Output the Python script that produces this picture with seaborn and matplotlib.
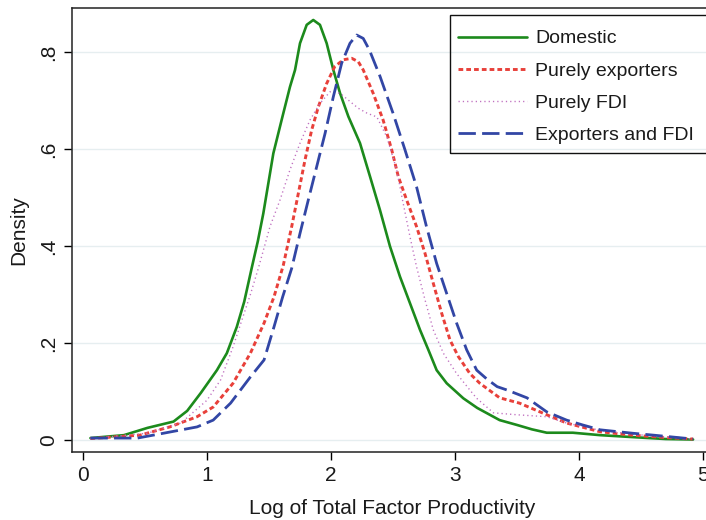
import matplotlib
matplotlib.use("Agg")
import matplotlib.pyplot as plt
import seaborn as sns
import pandas as pd
from matplotlib.patches import Rectangle

# ---- data ----
dom_x = [0.06, 0.33, 0.52, 0.73, 0.84, 0.95, 1.08, 1.16, 1.24, 1.30, 1.36, 1.41, 1.454, 1.535,
         1.602, 1.669, 1.71, 1.75, 1.804, 1.857, 1.911, 1.965, 2.019, 2.073, 2.14, 2.234,
         2.315, 2.395, 2.476, 2.556, 2.637, 2.718, 2.785, 2.852, 2.933, 3.067, 3.18, 3.36,
         3.50, 3.62, 3.74, 3.95, 4.17, 4.43, 4.70, 4.92]
dom_y = [0.004, 0.010, 0.025, 0.038, 0.060, 0.097, 0.144, 0.179, 0.233, 0.285, 0.354, 0.410,
         0.467, 0.591, 0.660, 0.728, 0.763, 0.818, 0.856, 0.866, 0.856, 0.818, 0.763, 0.715,
         0.667, 0.612, 0.543, 0.474, 0.399, 0.337, 0.282, 0.227, 0.186, 0.144, 0.117, 0.086,
         0.066, 0.041, 0.031, 0.022, 0.015, 0.015, 0.010, 0.006, 0.002, 0.001]

exp_x = [0.06, 0.46, 0.70, 0.92, 1.05, 1.21, 1.35, 1.46, 1.54, 1.615, 1.683, 1.737, 1.79,
         1.844, 1.898, 1.965, 2.03, 2.10, 2.167, 2.22, 2.26, 2.34, 2.42, 2.49, 2.543, 2.61,
         2.69, 2.758, 2.825, 2.893, 2.96, 3.027, 3.12, 3.20, 3.36, 3.52, 3.74, 3.90, 4.17,
         4.43, 4.70, 4.92]
exp_y = [0.003, 0.010, 0.027, 0.048, 0.068, 0.117, 0.179, 0.241, 0.295, 0.360, 0.440, 0.509,
         0.577, 0.639, 0.687, 0.735, 0.770, 0.784, 0.787, 0.780, 0.763, 0.715, 0.660, 0.598,
         0.543, 0.495, 0.440, 0.385, 0.323, 0.261, 0.206, 0.172, 0.137, 0.117, 0.087, 0.076,
         0.052, 0.035, 0.017, 0.010, 0.005, 0.002]

fdi_x = [0.06, 0.52, 0.79, 1.00, 1.11, 1.21, 1.29, 1.35, 1.414, 1.508, 1.589, 1.669, 1.75,
         1.831, 1.911, 1.992, 2.073, 2.153, 2.22, 2.29, 2.37, 2.45, 2.53, 2.575, 2.637, 2.69,
         2.758, 2.825, 2.906, 3.013, 3.12, 3.175, 3.31, 3.50, 3.74, 3.90, 4.17, 4.43, 4.70,
         4.92]
fdi_y = [0.003, 0.014, 0.035, 0.082, 0.124, 0.192, 0.254, 0.300, 0.354, 0.440, 0.495, 0.557,
         0.612, 0.660, 0.694, 0.718, 0.715, 0.698, 0.684, 0.674, 0.666, 0.625, 0.557, 0.497,
         0.419, 0.357, 0.289, 0.227, 0.179, 0.137, 0.103, 0.086, 0.056, 0.052, 0.048, 0.035,
         0.020, 0.012, 0.006, 0.002]

both_x = [0.06, 0.44, 0.65, 0.92, 1.05, 1.19, 1.35, 1.46, 1.54, 1.61, 1.683, 1.75, 1.817,
          1.885, 1.952, 2.019, 2.086, 2.153, 2.207, 2.26, 2.31, 2.395, 2.50, 2.597, 2.69,
          2.77, 2.852, 2.933, 3.013, 3.094, 3.175, 3.26, 3.34, 3.42, 3.58, 3.74, 3.90, 4.03,
          4.17, 4.43, 4.60, 4.92]
both_y = [0.004, 0.004, 0.014, 0.027, 0.041, 0.076, 0.130, 0.165, 0.233, 0.295, 0.354, 0.426,
          0.495, 0.564, 0.632, 0.708, 0.777, 0.818, 0.835, 0.828, 0.804, 0.750, 0.674, 0.598,
          0.522, 0.440, 0.364, 0.302, 0.241, 0.186, 0.144, 0.125, 0.110, 0.103, 0.087, 0.058,
          0.041, 0.031, 0.021, 0.014, 0.010, 0.002]

series_names = ["Domestic", "Purely exporters", "Purely FDI", "Exporters and FDI"]
x_ticks = [0, 1, 2, 3, 4, 5]
y_ticks = [0, 0.2, 0.4, 0.6, 0.8]
y_tick_labels = ["0", ".2", ".4", ".6", ".8"]

# ---- style ----
sns.set_style("white")
plt.rcParams["font.family"] = ["Liberation Sans", "DejaVu Sans"]
plt.rcParams["lines.scale_dashes"] = False

W, H = 706, 520
fig = plt.figure(figsize=(W / 100, H / 100), dpi=100)
ax = fig.add_axes([72 / W, 1 - 452 / H, (712 - 72) / W, (452 - 8) / H])

styles = [
    dict(color="#1c8a1c", linewidth=1.9, linestyle="-"),
    dict(color="#e8403a", linewidth=2.1, linestyle=(0, (3.4, 2.2))),
    dict(color="#c070c0", linewidth=1.0, linestyle=(0, (0.9, 2.2))),
    dict(color="#3246a5", linewidth=2.0, linestyle=(0, (12.5, 4.5))),
]
data = [(dom_x, dom_y), (exp_x, exp_y), (fdi_x, fdi_y), (both_x, both_y)]

for name, (xs, ys), st in zip(series_names, data, styles):
    df = pd.DataFrame({"x": xs, "y": ys})
    sns.lineplot(data=df, x="x", y="y", ax=ax, estimator=None, sort=False,
                 label=name, zorder=3, **st)

# axes limits (0 at px 83, 124 px per unit; y: 0 at px 440, 485 px per unit)
ax.set_xlim((72 - 83) / 124, (712 - 83) / 124)
ax.set_ylim((440 - 452) / 485, (440 - 8) / 485)

ax.set_xticks(x_ticks)
ax.set_yticks(y_ticks)
ax.set_yticklabels(y_tick_labels, rotation=90, va="center")
ax.tick_params(axis="both", which="major", direction="out", length=6, width=1,
               color="black", labelsize=15, pad=4, labelcolor="#1a1a1a")
ax.tick_params(axis="x", bottom=True)
ax.tick_params(axis="y", left=True)

for y in y_ticks:
    ax.axhline(y, color="#e6eef0", linewidth=1.0, zorder=1)

for s in ["left", "bottom", "top"]:
    ax.spines[s].set_visible(True)
    ax.spines[s].set_color("#222222")
    ax.spines[s].set_linewidth(1.1)
ax.spines["right"].set_visible(False)

ax.set_xlabel("Log of Total Factor Productivity", fontsize=15, color="#1a1a1a", labelpad=10)
ax.set_ylabel("Density", fontsize=15, color="#1a1a1a", labelpad=8)

leg = ax.legend(loc="upper left", bbox_to_anchor=(448 / W, 1 - 20 / H),
                bbox_transform=fig.transFigure, frameon=False, fontsize=14,
                handlelength=3.55, handletextpad=0.42, labelspacing=0.75,
                borderpad=0.5, borderaxespad=0)
for t in leg.get_texts():
    t.set_color("#1a1a1a")

fig.patches.append(Rectangle((450 / W, 1 - 153 / H), (712 - 450) / W, (153 - 15) / H,
                             transform=fig.transFigure, fill=False, edgecolor="#111111",
                             linewidth=1.0, zorder=5))

fig.savefig("out.png", dpi=100)
